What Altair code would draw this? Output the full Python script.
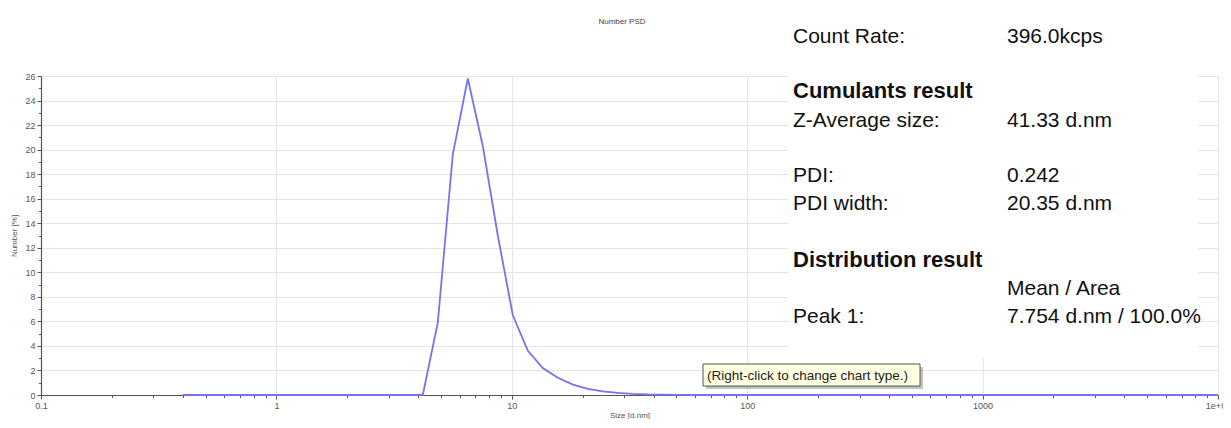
import altair as alt
import pandas as pd

# ---------------- data ----------------
sizes = [0.4, 0.4632, 0.5365, 0.6213, 0.7195, 0.8332, 0.9649, 1.117, 1.294, 1.499,
         1.736, 2.010, 2.328, 2.696, 3.122, 3.615, 4.187, 4.849, 5.615, 6.503,
         7.531, 8.721, 10.10, 11.70, 13.54, 15.69, 18.17, 21.04, 24.36, 28.21,
         32.67, 37.84, 43.82, 50.75, 58.77, 68.06, 78.82, 91.28, 105.7, 122.4,
         141.8, 164.2, 190.1, 220.2, 255.0, 295.3, 342.0, 396.1, 458.7, 531.2,
         615.1, 712.4, 825.0, 955.4, 1106, 1281, 1484, 1718, 1990, 2305,
         2669, 3091, 3580, 4145, 4801, 5560, 6439, 7456, 8635, 10000]
number = [0, 0, 0, 0, 0, 0, 0, 0, 0, 0,
          0, 0, 0, 0, 0, 0, 0, 5.9, 19.6, 25.8,
          20.3, 13.0, 6.5, 3.6, 2.2, 1.4, 0.85, 0.5, 0.3, 0.17,
          0.09, 0.04, 0.02, 0.01, 0, 0, 0, 0, 0, 0,
          0, 0, 0, 0, 0, 0, 0, 0, 0, 0,
          0, 0, 0, 0, 0, 0, 0, 0, 0, 0,
          0, 0, 0, 0, 0, 0, 0, 0, 0, 0]

x_ticks = [0.1, 0.2, 0.3, 0.4, 0.5, 0.6, 0.7, 0.8, 0.9,
           1, 2, 3, 4, 5, 6, 7, 8, 9,
           10, 20, 30, 40, 50, 60, 70, 80, 90,
           100, 200, 300, 400, 500, 600, 700, 800, 900,
           1000, 2000, 3000, 4000, 5000, 6000, 7000, 8000, 9000, 10000]
x_major = [0.1, 1, 10, 100, 1000, 10000]
y_ticks = [0, 1, 2, 3, 4, 5, 6, 7, 8, 9, 10, 11, 12, 13, 14, 15, 16, 17, 18, 19,
           20, 21, 22, 23, 24, 25, 26]

chart_title = "Number PSD"
x_title = "Size [d.nm]"
y_title = "Number [%]"

info_labels = ["Count Rate:", "Z-Average size:", "PDI:", "PDI width:", "Peak 1:"]
info_values = ["396.0kcps", "41.33 d.nm", "0.242", "20.35 d.nm", "7.754 d.nm / 100.0%"]
info_headers = ["Cumulants result", "Distribution result"]
info_subheader = "Mean / Area"
tip_text = "(Right-click to change chart type.)"

df = pd.DataFrame({"size": sizes, "number": number})

FONT = "Liberation Sans"
W, H = 1177, 319

major_test = "indexof(%s, datum.value) >= 0" % str(x_major)
x_label_expr = ("datum.value == 10000 ? '1e+04' : (" + major_test +
                " ? format(datum.value, '') : '')")

x_axis = alt.Axis(
    values=x_ticks, title=x_title, labelExpr=x_label_expr,
    grid=True, gridColor="#e4e4e4",
    gridOpacity={"condition": {"test": major_test, "value": 1}, "value": 0},
    tickSize={"condition": {"test": major_test, "value": 4}, "value": 2.5},
    tickColor="#555555", domainColor="#555555", domainWidth=1.2,
    labelFont=FONT, labelFontSize=9, labelColor="#555555", labelPadding=2,
    labelFlush=False, labelOverlap=False,
    titleFont=FONT, titleFontSize=8, titleFontWeight="normal", titleColor="#555555",
    titleY=20, titleBaseline="middle",
)
y_axis = alt.Axis(
    values=y_ticks, title=y_title,
    labelExpr="datum.value % 2 == 0 ? datum.label : ''",
    grid=True, gridColor="#e4e4e4",
    gridOpacity={"condition": {"test": "datum.value % 2 == 0", "value": 1}, "value": 0},
    tickSize={"condition": {"test": "datum.value % 2 == 0", "value": 4}, "value": 2.5},
    tickColor="#555555", domainColor="#555555", domainWidth=1.2,
    labelFont=FONT, labelFontSize=9, labelColor="#555555", labelPadding=2,
    labelOverlap=False, labelFlush=False,
    titleFont=FONT, titleFontSize=8, titleFontWeight="normal", titleColor="#555555",
    titleX=-27, titleY=H / 2, titleAngle=270, titleBaseline="middle", titleAlign="center",
)

line = alt.Chart(df).mark_line(color="#7474f0", strokeWidth=1.8).encode(
    x=alt.X("size:Q", scale=alt.Scale(type="log", domain=[0.1, 10000], nice=False), axis=x_axis),
    y=alt.Y("number:Q", scale=alt.Scale(domain=[0, 26], nice=False, zero=True), axis=y_axis),
)


def one(text):
    return alt.Chart(pd.DataFrame({"t": [text]}))


def txt(text, x, y, size=21, weight="normal", color="#111111", align="left", baseline="alphabetic", **kw):
    return one(text).mark_text(
        font=FONT, fontSize=size, fontWeight=weight, color=color,
        align=align, baseline=baseline, **kw
    ).encode(text="t:N", x=alt.value(x), y=alt.value(y))


layers = [line]

# title
layers.append(txt(chart_title, 581, -54, size=8, color="#444444", align="center", baseline="middle"))

# info panel background
layers.append(one("panel").mark_rect(color="white").encode(
    x=alt.value(747), x2=alt.value(1157), y=alt.value(-30), y2=alt.value(282)))

LX, VX = 752, 966
layers.append(txt(info_labels[0], LX, -33))
layers.append(txt(info_values[0], VX, -33))
layers.append(txt(info_headers[0], LX, 22, size=22, weight="bold"))
layers.append(txt(info_labels[1], LX, 51))
layers.append(txt(info_values[1], VX, 51))
layers.append(txt(info_labels[2], LX, 106))
layers.append(txt(info_values[2], VX, 106))
layers.append(txt(info_labels[3], LX, 134))
layers.append(txt(info_values[3], VX, 134))
layers.append(txt(info_headers[1], LX, 191, size=22, weight="bold"))
layers.append(txt(info_subheader, VX, 219))
layers.append(txt(info_labels[4], LX, 247))
layers.append(txt(info_values[4], VX, 247))

# tooltip box
layers.append(one("shadow").mark_rect(color="#9a9a9a", opacity=0.6).encode(
    x=alt.value(665), x2=alt.value(882), y=alt.value(291), y2=alt.value(313)))
layers.append(one("tip").mark_rect(color="#ffffe1", stroke="#555555", strokeWidth=1).encode(
    x=alt.value(662), x2=alt.value(879), y=alt.value(288), y2=alt.value(310)))
layers.append(txt(tip_text, 666, 304, size=13.5, color="#222222"))

chart = alt.layer(*layers).properties(
    width=W, height=H,
    autosize=alt.AutoSizeParams(type="none"),
    padding={"left": 33, "top": 68, "right": 5, "bottom": 24},
).configure_view(stroke=None).configure(background="white")

chart.save("out.html", embed_options={"renderer": "svg", "actions": False})
